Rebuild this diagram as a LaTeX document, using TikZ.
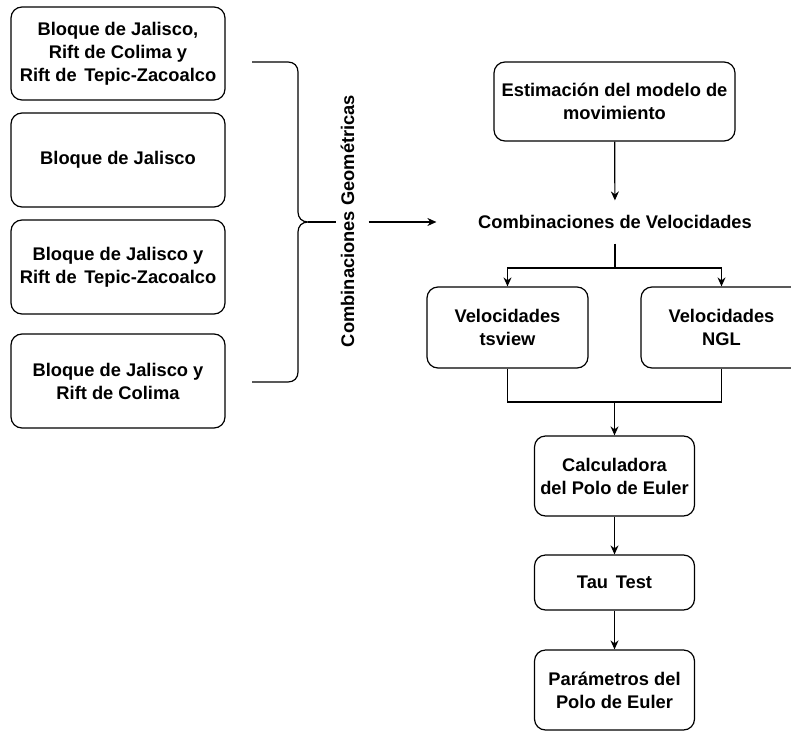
\documentclass[tikz,border=0pt]{standalone}
\usepackage{fontspec}
\setmainfont{Liberation Sans}
\usetikzlibrary{arrows.meta}
\begin{document}
\begin{tikzpicture}[x=1pt,y=-1pt,line width=1.2pt,
  txt/.style={align=center,inner sep=0pt,font=\fontsize{18.3}{23}\selectfont\bfseries},
  box/.style={txt,draw,rounded corners=11pt},
  lbox/.style={box,minimum width=214pt,minimum height=94pt},
  rbox/.style={box,minimum width=160pt,minimum height=80pt},
  arr/.style={-{Stealth[length=9pt,width=8pt]}}]
\useasboundingbox (0,0) rectangle (791,730);
\clip (0,0) rectangle (791,730);
% left boxes
\node[lbox,minimum height=93pt] (b1) at (118,53.5) {Bloque de Jalisco,\\Rift de Colima y\\Rift de\hspace{2.5pt} Tepic-Zacoalco};
\node[lbox] (b2) at (118,160) {Bloque de Jalisco};
\node[lbox] (b3) at (118,267) {Bloque de Jalisco y\\Rift de\hspace{2.5pt} Tepic-Zacoalco};
\node[lbox] (b4) at (118,381) {Bloque de Jalisco y\\Rift de Colima};
% brace
\coordinate (bt) at (252,62);
\coordinate (bb) at (252,382);
\coordinate (tip) at (308,222);
\draw (bt) -- (288,62) .. controls (294,62) and (298,66) .. (298,72) -- (298,212)
  .. controls (298,218) and (302,222) .. (tip)
  .. controls (302,222) and (298,226) .. (298,232) -- (298,372)
  .. controls (298,378) and (294,382) .. (288,382) -- (bb);
\node[txt,rotate=90,text height=15pt,text depth=12pt,inner sep=2pt] (geo) at (352.5,221) {Combinaciones Geométricas};
% right column
\node[box,minimum width=241pt,minimum height=79pt] (est) at (614.5,101.5) {Estimación del modelo de\\movimiento};
\node[txt,minimum width=356pt,minimum height=42pt] (comb) at (615,222) {Combinaciones de Velocidades};
\node[rbox,minimum width=161pt,minimum height=81pt] (tsv) at (507.5,327.5) {Velocidades\\tsview};
\node[rbox,minimum width=161pt,minimum height=81pt] (ngl) at (721.5,327.5) {Velocidades\\NGL};
\node[rbox] (calc) at (614.5,476) {Calculadora\\del Polo de Euler};
\node[rbox,minimum height=55pt] (tau) at (614.5,582.5) {Tau\hspace{2.5pt} Test};
\node[rbox] (par) at (614.5,690) {Parámetros del\\Polo de Euler};
% connectors
\draw (tip) -- (geo.north |- tip);
\draw[arr] (geo.south |- tip) -- (comb.west);
\draw[arr] (est) -- (comb);
\coordinate (split) at (615,268);
\coordinate (join) at (614.5,402);
\draw (comb.south) -- (split);
\draw[arr] (split) -| (tsv.north);
\draw[arr] (split) -| (ngl.north);
\draw (tsv.south) |- (join);
\draw (ngl.south) |- (join);
\draw[arr] (join) -- (calc.north);
\draw[arr] (calc) -- (tau);
\draw[arr] (tau) -- (par);
\end{tikzpicture}
\end{document}
